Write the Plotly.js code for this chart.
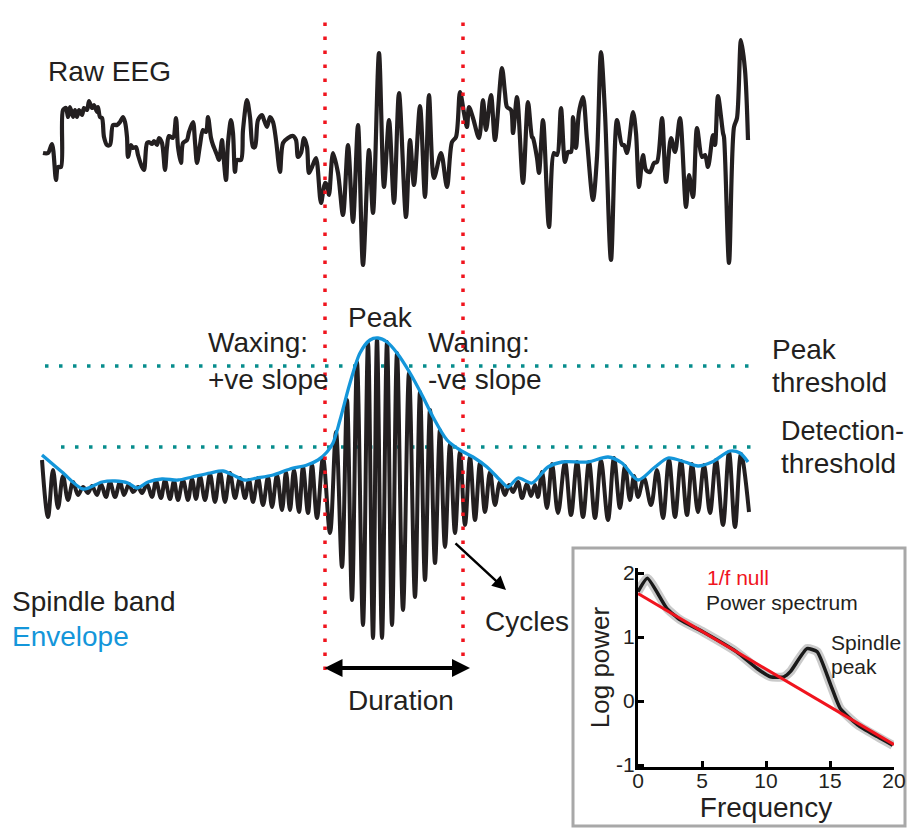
<!DOCTYPE html>
<html>
<head>
<meta charset="utf-8">
<script src="https://cdn.plot.ly/plotly-3.0.1.min.js"></script>
<style>html,body{margin:0;padding:0;background:#fff;}#chart{width:907px;height:828px;}</style>
</head>
<body>
<div id="chart"></div>
<script>
// ---------- DATA ----------
// Raw EEG (time in samples, amplitude in uV)
const rawTime = [1,6,10,14,16,19,21,24,26,28,31,33,35,37,40,42,45,47,50,52,55,56,58,60,62,65,68,71,75,78,81,83,85,86,89,91,94,96,100,102,105,107,110,112,115,117,120,123,125,127,131,134,136,139,141,145,147,151,153,155,158,161,164,166,169,171,173,175,177,180,181,184,186,189,191,193,195,199,201,205,208,211,213,216,220,222,225,228,231,234,238,241,246,251,254,256,259,262,265,267,270,274,279,283,285,287,291,296,301,306,311,316,321,327,331,337,342,347,352,357,364,368,372,378,383,387,392,399,405,410,414,418,422,425,427,431,437,441,444,449,453,460,463,465,469,471,475,481,486,490,491,495,497,501,507,512,515,519,523,526,529,531,534,537,541,545,551,555,559,563,569,575,580,582,585,591,594,597,601,604,608,612,615,620,624,629,633,638,644,647,651,655,660,663,666,671,673,676,681,682,687,692,695,699,703,706];
const rawAmp  = [2,2,11,-25,-12,-12,45,47,38,48,38,45,38,45,40,47,45,54,47,50,43,48,38,37,18,10,10,30,30,33,38,33,18,-2,10,7,8,0,-12,-15,12,13,11,14,10,17,12,-15,8,19,17,37,8,-8,12,15,23,33,13,-8,10,25,23,38,17,10,5,0,-5,15,5,-25,12,35,22,-17,-5,-5,25,55,38,8,8,35,40,35,28,38,33,15,-17,12,17,19,15,-2,2,17,8,-18,-12,-3,-48,-28,-30,-40,2,-18,-60,10,-67,30,-110,5,-58,102,-32,35,-48,62,-62,15,-30,49,-42,60,-23,2,-32,13,18,63,42,28,48,37,17,55,25,60,15,87,62,48,45,22,58,-28,53,18,17,-3,-18,35,-72,2,0,47,-7,3,3,38,7,43,58,15,-45,-2,103,42,-105,35,10,10,2,43,22,-32,0,-15,-17,-8,-7,37,-27,17,3,37,-52,-20,-42,27,-2,0,-12,20,10,59,22,18,-108,28,37,115,85,15];

// Spindle band (extrema of the band-passed signal)
const spindleTime = [0,6,11,16,21,26,31,36,41,46,50,55,59,64,68,73,78,82,87,91,96,100,105,110,114,119,123,128,132,136,141,146,150,154,158,163,168,173,178,183,188,193,198,203,207,211,216,221,226,230,235,240,244,248,252,257,261,266,270,275,281,288,294,300,305,310,315,321,326,331,335,340,345,350,355,361,367,373,378,383,388,393,398,403,408,413,418,423,428,433,438,443,448,453,458,463,467,471,476,480,485,489,493,496,500,505,510,516,523,529,535,541,547,553,559,566,572,578,583,588,592,596,602,609,615,621,627,633,639,645,650,656,662,668,674,681,687,693,699,707];
const spindleAmp  = [30,-27,20,-18,14,-10,8,-5,3,-3,4,-5,6,-7,8,-7,8,-5,6,-2,3,-3,6,-7,9,-8,10,-9,9,-10,10,-10,11,-9,14,-10,16,-12,18,-12,17,-8,12,-8,10,-12,12,-15,13,-17,15,-20,18,-20,20,-22,23,-23,25,-28,32,-43,58,-77,90,-110,128,-135,147,-148,151,-148,148,-135,137,-120,117,-107,98,-90,80,-73,60,-57,46,-43,38,-35,33,-30,27,-22,18,-15,8,-5,5,-2,8,-8,6,-6,5,-7,18,-18,26,-23,28,-25,28,-27,28,-28,29,-30,32,-18,24,-10,14,-7,12,-15,20,-28,30,-27,29,-25,26,-22,25,-23,30,-35,38,-37,36,-22];

// Envelope of the spindle band
const envTime = [0,20,41,60,73,86,95,106,120,136,150,168,181,191,203,215,231,248,265,276,285,291,298,308,318,328,336,345,355,368,381,391,405,418,431,445,458,466,476,490,506,520,546,566,580,596,613,626,643,656,670,688,698,706];
const envAmp  = [35,18,1,8,9,7,2,8,11,10,13,17,19,15,10,12,15,21,25,30,38,47,70,107,137,150,152,148,137,117,93,73,50,40,33,23,10,3,12,7,23,28,28,33,27,10,23,32,28,24,28,39,37,28];

// Thresholds (uV) and spindle boundaries (samples)
const peakThreshold = 124;
const detectionThreshold = 43;
const peakThrRange = [3, 710];
const detThrRange = [19, 715];
const spindleStart = 283;
const spindleEnd = 421;

// Power spectrum inset
const specFreq = [0,0.73,2.25,3.3,5.1,7.7,9.3,10.35,11.4,11.9,13.2,14.0,15.06,15.8,17.15,18.7,19.9];
const specPow  = [1.71,1.92,1.45,1.27,1.08,0.77,0.51,0.38,0.38,0.46,0.82,0.77,0.25,-0.115,-0.37,-0.555,-0.69];
const nullFreq = [0,20];
const nullPow  = [1.68,-0.68];
const freqTicks = [0,5,10,15,20];
const powTicks = [-1,0,1,2];

// ---------- STYLE ----------
const W = 907, H = 828;
const FONT = 'Liberation Sans, Arial, Helvetica, sans-serif';
const INK = '#231f20';
const BLUE = '#1496da';
const TEAL = '#078d8d';
const RED = '#f0141e';
const px = v => v / W;
const py = v => 1 - v / H;

const traces = [
  {x: rawTime, y: rawAmp, xaxis: 'x', yaxis: 'y', mode: 'lines',
   line: {color: INK, width: 4.2, shape: 'spline', smoothing: 0.85}, hoverinfo: 'skip'},
  {x: peakThrRange, y: [peakThreshold, peakThreshold], xaxis: 'x', yaxis: 'y2', mode: 'lines',
   line: {color: TEAL, width: 3.5, dash: '3.5px,10.5px'}, hoverinfo: 'skip'},
  {x: detThrRange, y: [detectionThreshold, detectionThreshold], xaxis: 'x', yaxis: 'y2', mode: 'lines',
   line: {color: TEAL, width: 3.5, dash: '3.5px,10.5px'}, hoverinfo: 'skip'},
  {x: spindleTime, y: spindleAmp, xaxis: 'x', yaxis: 'y2', mode: 'lines',
   line: {color: INK, width: 4, shape: 'spline', smoothing: 1}, hoverinfo: 'skip'},
  {x: envTime, y: envAmp, xaxis: 'x', yaxis: 'y2', mode: 'lines',
   line: {color: BLUE, width: 3.3, shape: 'spline', smoothing: 0.8}, hoverinfo: 'skip'},
  {x: specFreq, y: specPow, xaxis: 'x3', yaxis: 'y3', mode: 'lines',
   line: {color: 'rgba(150,150,150,0.5)', width: 9, shape: 'spline', smoothing: 0.5}, hoverinfo: 'skip'},
  {x: specFreq, y: specPow, xaxis: 'x3', yaxis: 'y3', mode: 'lines',
   line: {color: '#1a1a1a', width: 3.5, shape: 'spline', smoothing: 0.5}, hoverinfo: 'skip'},
  {x: nullFreq, y: nullPow, xaxis: 'x3', yaxis: 'y3', mode: 'lines',
   line: {color: RED, width: 3}, hoverinfo: 'skip'}
];

function txt(text, x, y, opts) {
  return Object.assign({text: text, x: px(x), y: py(y), xref: 'paper', yref: 'paper',
    xanchor: 'left', yanchor: 'middle', showarrow: false,
    font: {family: FONT, size: 28, color: INK}}, opts || {});
}
const small = (c) => ({font: {family: FONT, size: 21, color: c || INK}});

const annotations = [
  txt('Raw EEG', 46, 71),
  txt('Peak', 380, 318, {xanchor: 'center'}),
  txt('Waxing:', 206, 342),
  txt('+ve slope', 206, 379),
  txt('Waning:', 426, 342),
  txt('-ve slope', 426, 379),
  txt('Peak', 770, 349),
  txt('threshold', 770, 382),
  txt('Detection-', 779, 431, {font: {family: FONT, size: 27, color: INK}}),
  txt('threshold', 779, 463),
  txt('Spindle band', 10, 601),
  txt('Envelope', 10, 636, {font: {family: FONT, size: 28, color: BLUE}}),
  txt('Duration', 346, 700),
  txt('Cycles', 483, 621),
  txt('1/f null', 705, 577, small(RED)),
  txt('Power spectrum', 704, 602, small()),
  txt('Spindle', 829, 642, small()),
  txt('peak', 829, 666, small()),
  // duration double arrow
  {x: px(470), y: py(668), xref: 'paper', yref: 'paper', ax: -147, ay: 0, text: '',
   showarrow: true, arrowhead: 2, startarrowhead: 2, arrowside: 'end+start',
   arrowsize: 0.9, startarrowsize: 0.9, arrowwidth: 4, arrowcolor: '#000'},
  // cycles arrow
  {x: px(506), y: py(590), xref: 'paper', yref: 'paper', ax: -52, ay: -48, text: '',
   showarrow: true, arrowhead: 2, arrowsize: 1.1, arrowwidth: 2.5, arrowcolor: '#000'}
];

const shapes = [
  {type: 'rect', xref: 'paper', yref: 'paper', x0: px(573), x1: px(905), y0: py(826), y1: py(548),
   line: {color: '#a8a8a8', width: 3}, fillcolor: '#ffffff', layer: 'below'},
  {type: 'line', xref: 'x', yref: 'paper', x0: spindleStart, x1: spindleStart, y0: py(670), y1: py(12),
   line: {color: RED, width: 3.5, dash: '3.5px,10.5px'}},
  {type: 'line', xref: 'x', yref: 'paper', x0: spindleEnd, x1: spindleEnd, y0: py(670), y1: py(12),
   line: {color: RED, width: 3.5, dash: '3.5px,10.5px'}}
];

const hidden = {visible: false, showgrid: false, zeroline: false, fixedrange: true};
const layout = {
  width: W, height: H, autosize: false,
  margin: {l: 0, r: 0, t: 0, b: 0, pad: 0},
  paper_bgcolor: '#fff', plot_bgcolor: 'rgba(0,0,0,0)',
  showlegend: false,
  xaxis: Object.assign({}, hidden, {domain: [0, 1], range: [-42, 865]}),
  yaxis: Object.assign({}, hidden, {domain: [py(290), py(20)], range: [-135, 135], anchor: 'x'}),
  yaxis2: Object.assign({}, hidden, {domain: [py(660), py(320)], range: [-170, 170], anchor: 'x'}),
  xaxis3: {domain: [px(638), px(894)], range: [0, 20], anchor: 'y3',
    showline: true, linecolor: '#000', linewidth: 3, mirror: false,
    ticks: 'inside', ticklen: 6, tickwidth: 3, tickcolor: '#000',
    tickvals: freqTicks, ticktext: freqTicks.map(String),
    showgrid: false, zeroline: false, ticklabelstandoff: -7,
    tickfont: {family: FONT, size: 21, color: INK},
    title: {text: 'Frequency', font: {family: FONT, size: 28, color: INK}, standoff: 0}},
  yaxis3: {domain: [py(767), py(568)], range: [-1.03, 2.08], anchor: 'x3',
    showline: true, linecolor: '#000', linewidth: 3,
    ticks: 'inside', ticklen: 6, tickwidth: 3, tickcolor: '#000',
    tickvals: powTicks, ticktext: powTicks.map(String),
    showgrid: false, zeroline: false, ticklabelstandoff: -4,
    tickfont: {family: FONT, size: 21, color: INK},
    title: {text: 'Log power', font: {family: FONT, size: 26, color: INK}, standoff: 0}},
  annotations: annotations,
  shapes: shapes
};

Plotly.newPlot('chart', traces, layout, {staticPlot: true, displayModeBar: false});
</script>
</body>
</html>
